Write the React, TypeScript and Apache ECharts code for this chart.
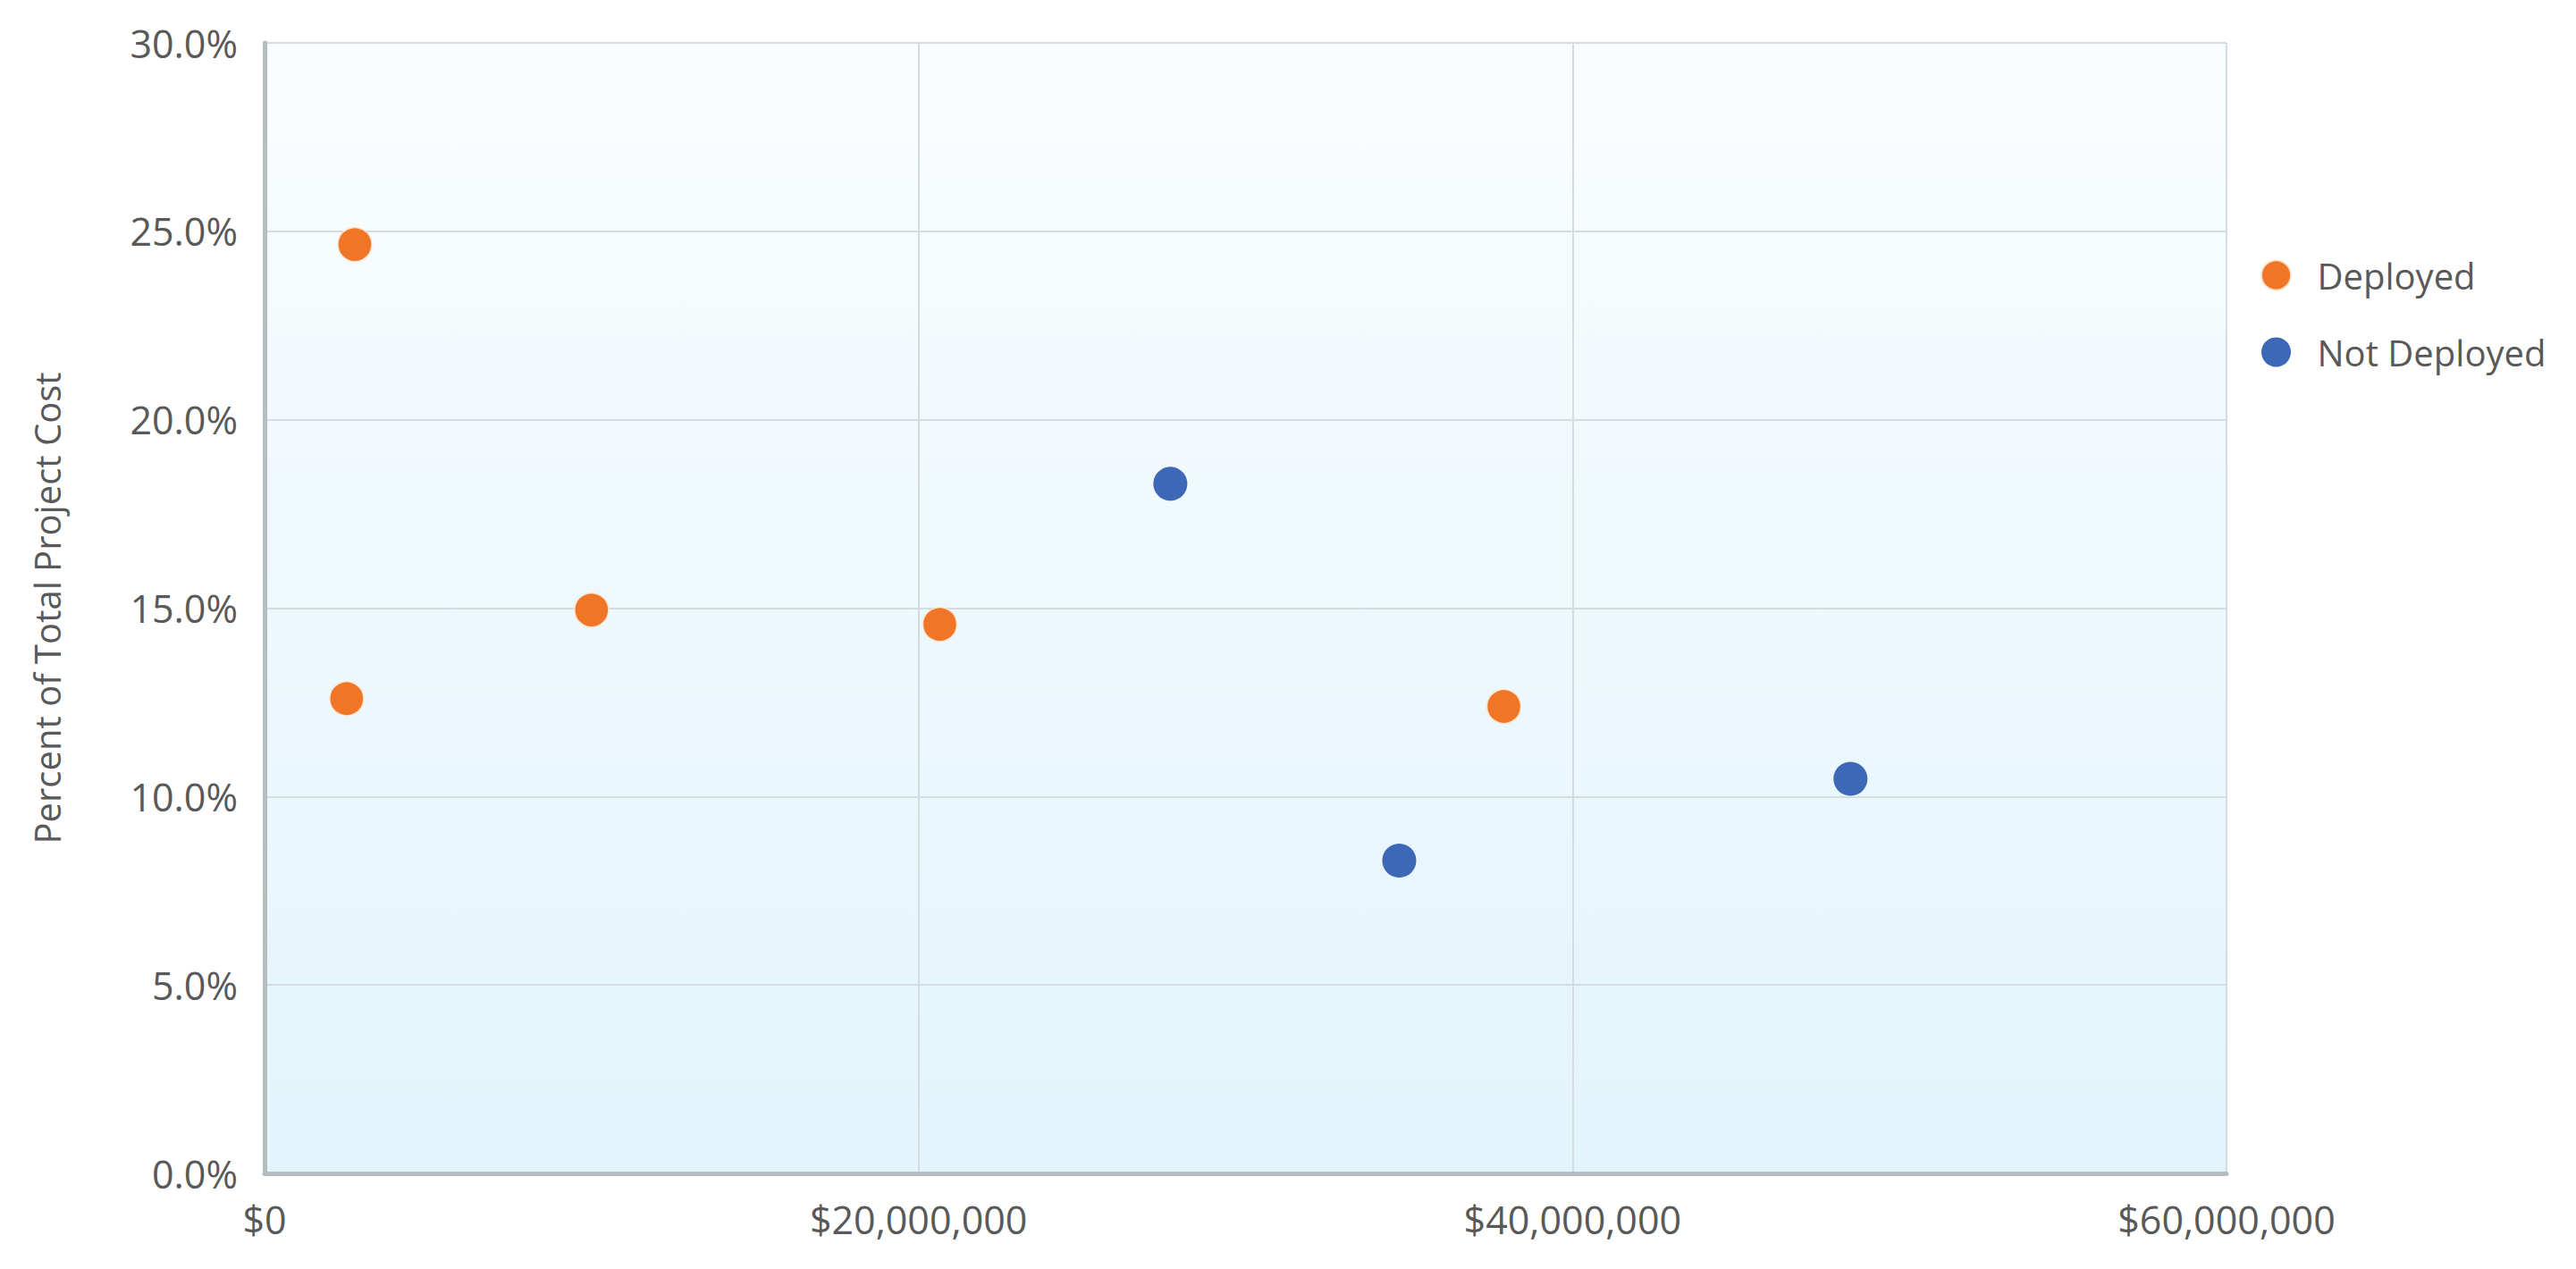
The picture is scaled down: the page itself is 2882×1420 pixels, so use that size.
import React, { useEffect, useRef } from "react";
import * as echarts from "echarts";

const seriesNames = ["Deployed", "Not Deployed"];
const deployedCost = [2760000, 2510000, 10000000, 20650000, 37900000];
const deployedPct = [24.65, 12.6, 14.95, 14.57, 12.39];
const notDeployedCost = [27700000, 34700000, 48500000];
const notDeployedPct = [18.3, 8.3, 10.47];
const xTicks = { min: 0, max: 60000000, interval: 20000000 };
const yTicks = { min: 0, max: 30, interval: 5 };
const yAxisTitle = "Percent of Total Project Cost";

const ORANGE = "#EE7626";
const BLUE = "#3C68B6";
const FONT = "'Open Sans', 'Noto Sans', sans-serif";
const LABEL = "#595959";

export default function App() {
  const ref = useRef<HTMLDivElement>(null);
  useEffect(() => {
    if (!ref.current) return;
    const chart = echarts.init(ref.current, null, { renderer: "svg" });
    const pair = (xs: number[], ys: number[]) => xs.map((x, i) => [x, ys[i]]);
    chart.setOption({
      animation: false,
      backgroundColor: "#ffffff",
      textStyle: { fontFamily: FONT },
      grid: {
        left: 296,
        right: 391,
        top: 48,
        bottom: 107,
        show: true,
        borderWidth: 0,
        backgroundColor: {
          type: "linear",
          x: 0,
          y: 0,
          x2: 0,
          y2: 1,
          colorStops: [
            { offset: 0, color: "#FAFDFE" },
            { offset: 1, color: "#E2F4FC" },
          ],
        },
      },
      legend: {
        orient: "vertical",
        left: 2524,
        top: 283,
        itemWidth: 58,
        itemHeight: 33,
        itemGap: 46,
        icon: "circle",
        data: seriesNames,
        textStyle: {
          fontFamily: FONT,
          fontSize: 40,
          color: LABEL,
          padding: [0, 0, 0, 12],
        },
      },
      xAxis: {
        type: "value",
        min: xTicks.min,
        max: xTicks.max,
        interval: xTicks.interval,
        axisLine: { show: true, onZero: false, lineStyle: { color: "#B6BDC1", width: 5 } },
        axisTick: { show: false },
        splitLine: { show: true, lineStyle: { color: "#D5DCE0", width: 2 } },
        axisLabel: {
          margin: 30,
          fontFamily: FONT,
          fontSize: 43,
          color: LABEL,
          formatter: (v: number) => "$" + v.toLocaleString("en-US"),
        },
      },
      yAxis: {
        type: "value",
        min: yTicks.min,
        max: yTicks.max,
        interval: yTicks.interval,
        name: yAxisTitle,
        nameLocation: "middle",
        nameGap: 224,
        nameTextStyle: { fontFamily: FONT, fontSize: 40, color: LABEL },
        axisLine: { show: true, lineStyle: { color: "#B6BDC1", width: 5 } },
        axisTick: { show: false },
        splitLine: { show: true, lineStyle: { color: "#D5DCE0", width: 2 } },
        axisLabel: {
          margin: 30,
          fontFamily: FONT,
          fontSize: 43,
          color: LABEL,
          formatter: (v: number) => v.toFixed(1) + "%",
        },
      },
      series: [
        {
          name: seriesNames[0],
          type: "scatter",
          symbol: "circle",
          symbolSize: 38,
          itemStyle: { color: ORANGE, opacity: 1, borderColor: "rgba(255,230,210,0.9)", borderWidth: 1.5 },
          data: pair(deployedCost, deployedPct),
        },
        {
          name: seriesNames[1],
          type: "scatter",
          symbol: "circle",
          symbolSize: 38,
          itemStyle: { color: BLUE, opacity: 1 },
          data: pair(notDeployedCost, notDeployedPct),
        },
      ],
    });
    return () => chart.dispose();
  }, []);
  return (
    <div
      ref={ref}
      style={{ position: "absolute", left: 0, top: 0, width: 2882, height: 1420 }}
    />
  );
}
